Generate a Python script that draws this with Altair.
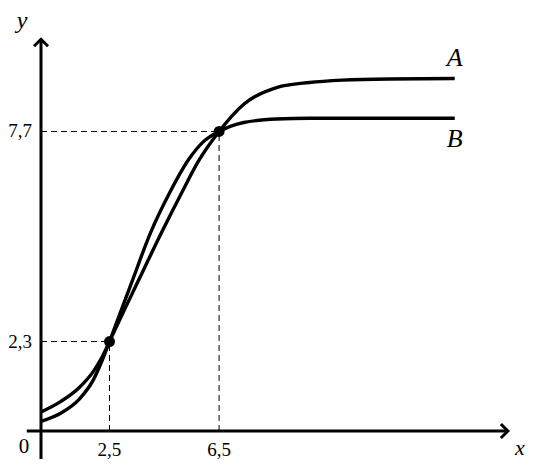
import altair as alt
import pandas as pd

# ---- data ----
a_x = [0, 0.7, 1.4, 1.9, 2.2, 2.5, 3.0, 3.55, 4.4, 5.14, 5.74, 6.5, 7.4, 8.6, 9.8, 11.0, 12.7, 15.1]
a_y = [0.49, 0.75, 1.12, 1.52, 1.86, 2.3, 3.05, 3.86, 5.1, 6.13, 6.93, 7.7, 8.4, 8.83, 8.96, 9.02, 9.05, 9.06]

b_x = [0, 0.7, 1.4, 1.9, 2.2, 2.5, 2.9, 3.3, 4.0, 4.7, 5.4, 5.9, 6.5, 7.4, 8.6, 9.8, 15.1]
b_y = [0.25, 0.45, 0.82, 1.30, 1.76, 2.3, 3.05, 3.8, 5.1, 6.13, 6.99, 7.42, 7.7, 7.93, 8.02, 8.04, 8.04]

series_names = ["A", "B"]
cross_x = [2.5, 6.5]
cross_y = [2.3, 7.7]
x_tick_labels = ["2,5", "6,5"]
y_tick_labels = ["2,3", "7,7"]
origin_label = ["0"]
axis_names = ["x", "y"]

# ---- tables ----
curve_df = pd.concat([
    pd.DataFrame({"x": a_x, "y": a_y, "series": series_names[0]}),
    pd.DataFrame({"x": b_x, "y": b_y, "series": series_names[1]}),
])
cross_df = pd.DataFrame({"x": cross_x, "y": cross_y, "zero": [0, 0],
                         "xl": x_tick_labels, "yl": y_tick_labels})
end_df = pd.DataFrame({"x": [a_x[-1], b_x[-1]], "y": [a_y[-1], b_y[-1]], "label": series_names})

X_AXIS = [-0.52, 17.04]
Y_AXIS = [-0.72, 10.07]
xaxis_df = pd.DataFrame({"x": [X_AXIS[0]], "x2": [X_AXIS[1]], "y": [0]})
yaxis_df = pd.DataFrame({"x": [0], "y": [Y_AXIS[0]], "y2": [Y_AXIS[1]]})
xtip_df = pd.DataFrame({"x": [X_AXIS[1]], "y": [0], "label": [axis_names[0]]})
ytip_df = pd.DataFrame({"x": [0], "y": [Y_AXIS[1]], "label": [axis_names[1]]})
origin_df = pd.DataFrame({"x": [0], "y": [0], "label": origin_label})

xs = alt.Scale(domain=[-1.2044, 17.774], nice=False, zero=False)
ys = alt.Scale(domain=[-0.720, 10.874], nice=False, zero=False)

def X(f="x"):
    return alt.X(f"{f}:Q", scale=xs, axis=None)

def Y(f="y"):
    return alt.Y(f"{f}:Q", scale=ys, axis=None)

FONT = "Liberation Serif"

guides_h = alt.Chart(cross_df).mark_rule(color="black", strokeWidth=1, strokeDash=[6, 4]).encode(
    x=X("zero"), x2="x:Q", y=Y("y"))
guides_v = alt.Chart(cross_df).mark_rule(color="black", strokeWidth=1, strokeDash=[6, 4]).encode(
    x=X("x"), y=Y("zero"), y2="y:Q")

x_axis = alt.Chart(xaxis_df).mark_rule(color="black", strokeWidth=3).encode(x=X("x"), x2="x2:Q", y=Y("y"))
y_axis = alt.Chart(yaxis_df).mark_rule(color="black", strokeWidth=3).encode(x=X("x"), y=Y("y"), y2="y2:Q")

x_arrow = alt.Chart(xtip_df).mark_point(shape="M-1,-1L0,0L-1,1", filled=False, size=196, strokeWidth=3,
                                         color="black", opacity=1).encode(x=X(), y=Y())
y_arrow = alt.Chart(ytip_df).mark_point(shape="M-1,1L0,0L1,1", filled=False, size=196, strokeWidth=3,
                                         color="black", opacity=1).encode(x=X(), y=Y())

curves = alt.Chart(curve_df).mark_line(color="black", strokeWidth=3.4, interpolate="monotone").encode(
    x=X(), y=Y(), detail="series:N")

dots = alt.Chart(cross_df).mark_circle(size=120, color="black", opacity=1).encode(x=X(), y=Y())

x_ticks = alt.Chart(cross_df).mark_text(font=FONT, fontSize=19, dy=19, align="center", baseline="middle",
                                         color="black").encode(x=X("x"), y=Y("zero"), text="xl:N")
y_ticks = alt.Chart(cross_df).mark_text(font=FONT, fontSize=19, dx=-9, align="right", baseline="middle",
                                         color="black").encode(x=X("zero"), y=Y("y"), text="yl:N")
origin = alt.Chart(origin_df).mark_text(font=FONT, fontSize=21, dx=-17, dy=16, align="center",
                                         baseline="middle", color="black").encode(x=X(), y=Y(), text="label:N")
x_name = alt.Chart(xtip_df).mark_text(font=FONT, fontSize=22, fontStyle="italic", dx=12, dy=17,
                                       align="center", baseline="middle", color="black").encode(
    x=X(), y=Y(), text="label:N")
y_name = alt.Chart(ytip_df).mark_text(font=FONT, fontSize=24, fontStyle="italic", dx=-19, dy=-18,
                                       align="center", baseline="middle", color="black").encode(
    x=X(), y=Y(), text="label:N")

a_lab = alt.Chart(end_df[end_df.label == "A"]).mark_text(font=FONT, fontSize=26, fontStyle="italic", dy=-21,
                                                         align="center", baseline="middle", color="black").encode(
    x=X(), y=Y(), text="label:N")
b_lab = alt.Chart(end_df[end_df.label == "B"]).mark_text(font=FONT, fontSize=26, fontStyle="italic", dy=21,
                                                         align="center", baseline="middle", color="black").encode(
    x=X(), y=Y(), text="label:N")

chart = alt.layer(
    guides_h, guides_v, x_axis, y_axis, x_arrow, y_arrow, curves, dots,
    x_ticks, y_ticks, origin, x_name, y_name, a_lab, b_lab
).properties(
    width=520, height=451, padding=0, autosize=alt.AutoSizeParams(type="none"), background="white"
).configure_view(stroke=None)

chart.save("out.html", embed_options={"renderer": "svg", "actions": False})
